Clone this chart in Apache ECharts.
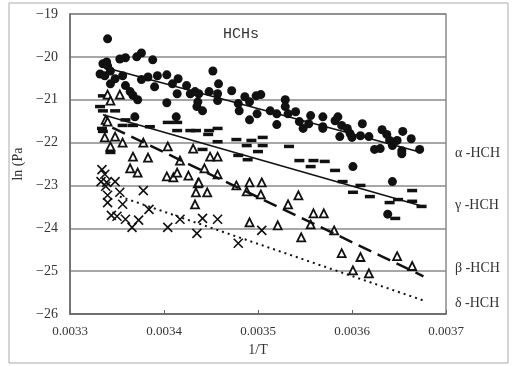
<!DOCTYPE html>
<html>
<head>
<meta charset="utf-8">
<script src="https://cdn.jsdelivr.net/npm/echarts@6/dist/echarts.min.js"></script>
<style>
  html, body { margin: 0; padding: 0; background: #fff; }
  #chart { width: 516px; height: 366px; }
</style>
</head>
<body>
<div id="chart"></div>
<script>
// [1/T, ln Pa]
const alpha = [
  [0.003340, -19.58], [0.003335, -20.16], [0.003340, -20.21], [0.003332, -20.40], [0.003337, -20.44],
  [0.003343, -20.33], [0.003339, -20.12], [0.003353, -20.05], [0.003359, -20.02], [0.003371, -20.00],
  [0.003376, -19.91], [0.003388, -20.07], [0.003343, -20.63], [0.003348, -20.51], [0.003356, -20.44],
  [0.003359, -20.67], [0.003364, -20.81], [0.003367, -20.90], [0.003372, -21.00], [0.003376, -20.53],
  [0.003383, -20.47], [0.003390, -20.70], [0.003393, -20.44], [0.003403, -20.42], [0.003403, -21.07],
  [0.003409, -20.63], [0.003414, -20.86], [0.003415, -20.51], [0.003424, -20.67], [0.003428, -20.86],
  [0.003433, -20.81], [0.003435, -21.16], [0.003413, -21.40], [0.003369, -21.40], [0.003452, -20.33],
  [0.003458, -20.63], [0.003437, -20.86], [0.003448, -20.81], [0.003457, -20.86], [0.003457, -21.02],
  [0.003441, -21.26], [0.003436, -21.05], [0.003472, -20.79], [0.003479, -21.09], [0.003480, -21.26],
  [0.003486, -20.93], [0.003491, -21.05], [0.003491, -21.47], [0.003498, -20.91], [0.003503, -20.88],
  [0.003499, -21.33], [0.003513, -21.26], [0.003520, -21.33], [0.003520, -21.58], [0.003529, -21.00],
  [0.003529, -21.16], [0.003532, -21.33], [0.003540, -21.28], [0.003544, -21.51], [0.003548, -21.67],
  [0.003556, -21.37], [0.003554, -21.56], [0.003569, -21.40], [0.003569, -21.63], [0.003569, -21.67],
  [0.003582, -21.49], [0.003585, -21.40], [0.003589, -21.60], [0.003595, -21.67], [0.003598, -21.79],
  [0.003600, -21.88], [0.003587, -21.86], [0.003611, -21.56], [0.003609, -21.84], [0.003618, -21.86],
  [0.003632, -21.70], [0.003637, -21.81], [0.003624, -22.16], [0.003630, -22.14], [0.003640, -21.95],
  [0.003643, -22.07], [0.003648, -21.95], [0.003654, -21.74], [0.003653, -22.19], [0.003653, -22.26],
  [0.003663, -21.91], [0.003672, -22.16], [0.003601, -22.56], [0.003643, -22.91], [0.003638, -23.67]
];
const gamma = [
  [0.003335, -20.91], [0.003332, -21.16], [0.003335, -21.26], [0.003348, -21.26], [0.003359, -21.47],
  [0.003367, -21.60], [0.003356, -21.60], [0.003385, -21.63], [0.003334, -21.67], [0.003335, -21.74],
  [0.003404, -21.53], [0.003414, -21.53], [0.003414, -21.72], [0.003428, -21.72], [0.003343, -22.23],
  [0.003434, -21.72], [0.003448, -21.72], [0.003447, -21.81], [0.003457, -21.67], [0.003457, -21.98],
  [0.003477, -21.93], [0.003488, -22.07], [0.003493, -21.95], [0.003505, -21.88], [0.003505, -22.07],
  [0.003500, -22.21], [0.003489, -22.40], [0.003479, -22.30], [0.003533, -22.09], [0.003441, -22.16],
  [0.003544, -22.42], [0.003559, -22.42], [0.003571, -22.44], [0.003582, -22.65], [0.003590, -22.91],
  [0.003609, -23.00], [0.003601, -23.16], [0.003619, -23.26], [0.003640, -23.40], [0.003649, -23.33],
  [0.003664, -23.12], [0.003664, -23.37], [0.003674, -23.49], [0.003646, -23.77], [0.003556, -22.56]
];
const beta = [
  [0.003340, -20.88], [0.003353, -20.88], [0.003343, -21.02], [0.003338, -21.47], [0.003340, -21.51],
  [0.003337, -21.88], [0.003348, -21.86], [0.003356, -22.00], [0.003378, -22.00], [0.003343, -22.09],
  [0.003367, -22.33], [0.003383, -22.35], [0.003404, -22.09], [0.003417, -22.42], [0.003431, -22.14],
  [0.003364, -22.60], [0.003372, -22.70], [0.003403, -22.79], [0.003410, -22.81], [0.003414, -22.70],
  [0.003426, -22.77], [0.003436, -22.95], [0.003434, -23.16], [0.003433, -23.44], [0.003457, -22.74],
  [0.003437, -22.93], [0.003446, -23.16], [0.003477, -23.00], [0.003488, -23.14], [0.003491, -22.93],
  [0.003504, -22.93], [0.003503, -23.21], [0.003532, -23.44], [0.003543, -23.23], [0.003491, -23.86],
  [0.003521, -23.93], [0.003556, -23.91], [0.003559, -23.65], [0.003570, -23.65], [0.003546, -24.21],
  [0.003443, -22.60], [0.003449, -22.33], [0.003457, -22.33], [0.003581, -24.05], [0.003589, -24.58],
  [0.003609, -24.67], [0.003648, -24.65], [0.003664, -24.88], [0.003601, -24.98], [0.003618, -25.05]
];
const delta = [
  [0.003334, -22.63], [0.003337, -22.74], [0.003333, -22.91], [0.003339, -22.93], [0.003338, -23.02],
  [0.003348, -22.91], [0.003353, -23.16], [0.003340, -23.23], [0.003340, -23.40], [0.003356, -23.44],
  [0.003378, -23.12], [0.003384, -23.56], [0.003344, -23.70], [0.003350, -23.72], [0.003359, -23.79],
  [0.003366, -23.98], [0.003373, -23.81], [0.003404, -23.98], [0.003417, -23.79], [0.003435, -24.12],
  [0.003441, -23.77], [0.003457, -23.79], [0.003479, -24.35], [0.003504, -24.05]
];
const alphaFit = [[0.003346, -20.30], [0.003674, -22.23]];
const gammaFit = [[0.003335, -21.35], [0.003676, -23.49]];
const betaFit = [[0.003345, -21.65], [0.003676, -25.12]];
const deltaFit = [[0.003353, -23.26], [0.003678, -25.70]];
const seriesLabels = ['α -HCH', 'γ -HCH', 'β -HCH', 'δ -HCH'];
const labelY = [155, 207, 270, 305];

const serif = '"Liberation Serif", "DejaVu Serif", serif';
const chart = echarts.init(document.getElementById('chart'));

chart.setOption({
  animation: false,
  grid: { left: 70, right: 70, top: 14, bottom: 52, show: true, borderColor: '#8a8a8a', borderWidth: 1.5 },
  title: {
    text: 'HCHs', left: 218, top: 22,
    textStyle: { fontFamily: '"Liberation Mono", monospace', fontWeight: 'normal', fontSize: 15, color: '#333' }
  },
  xAxis: {
    type: 'value', min: 0.0033, max: 0.0037, interval: 0.0001,
    name: '1/T', nameLocation: 'middle', nameGap: 24,
    nameTextStyle: { fontFamily: serif, fontSize: 14, color: '#333' },
    axisLine: { lineStyle: { color: '#666', width: 1.5 } },
    axisTick: { inside: true, length: 4, lineStyle: { color: '#666' } },
    axisLabel: { fontFamily: serif, fontSize: 13, color: '#333', margin: 11, formatter: v => v.toFixed(4) },
    splitLine: { show: false }
  },
  yAxis: {
    type: 'value', min: -26, max: -19, interval: 1,
    name: 'ln (Pa', nameLocation: 'middle', nameGap: 42, nameRotate: 90,
    nameTextStyle: { fontFamily: serif, fontSize: 14, color: '#333' },
    axisLine: { show: true, lineStyle: { color: '#666', width: 1.5 } },
    axisTick: { show: false },
    axisLabel: { fontFamily: serif, fontSize: 14, color: '#333', margin: 12, formatter: v => String(v).replace('-', '\u2212') },
    splitLine: { lineStyle: { color: '#8a8a8a', width: 1.5 } }
  },
  graphic: [
    { type: 'rect', shape: { x: 9, y: 3, width: 499, height: 360 }, style: { fill: 'none', stroke: '#aaa', lineWidth: 1 } }
  ].concat(seriesLabels.map((t, i) => ({
    type: 'text', left: 455, top: labelY[i] - 9,
    style: { text: t, font: '14px ' + serif, fill: '#333' }
  }))),
  series: [
    { type: 'scatter', data: alpha, symbol: 'circle', symbolSize: 9, itemStyle: { color: '#111', opacity: 1 } },
    { type: 'scatter', data: gamma, symbol: 'rect', symbolSize: [10, 3.5], itemStyle: { color: '#111', opacity: 1 } },
    { type: 'scatter', data: beta, symbol: 'triangle', symbolSize: 8,
      itemStyle: { color: '#fff', borderColor: '#111', borderWidth: 1.8, opacity: 1 } },
    { type: 'scatter', data: delta, symbol: 'path://M0,0L10,10M10,0L0,10', symbolSize: 9,
      itemStyle: { color: 'none', borderColor: '#111', borderWidth: 1.6, opacity: 1 } },
    { type: 'line', data: alphaFit, symbol: 'none', lineStyle: { color: '#111', width: 1.5 } },
    { type: 'line', data: gammaFit, symbol: 'none', lineStyle: { color: '#111', width: 1.5 } },
    { type: 'line', data: betaFit, symbol: 'none', lineStyle: { color: '#111', width: 2.5, type: [14, 7] } },
    { type: 'line', data: deltaFit, symbol: 'none', lineStyle: { color: '#111', width: 2, type: [2, 4] } }
  ]
});
</script>
</body>
</html>
